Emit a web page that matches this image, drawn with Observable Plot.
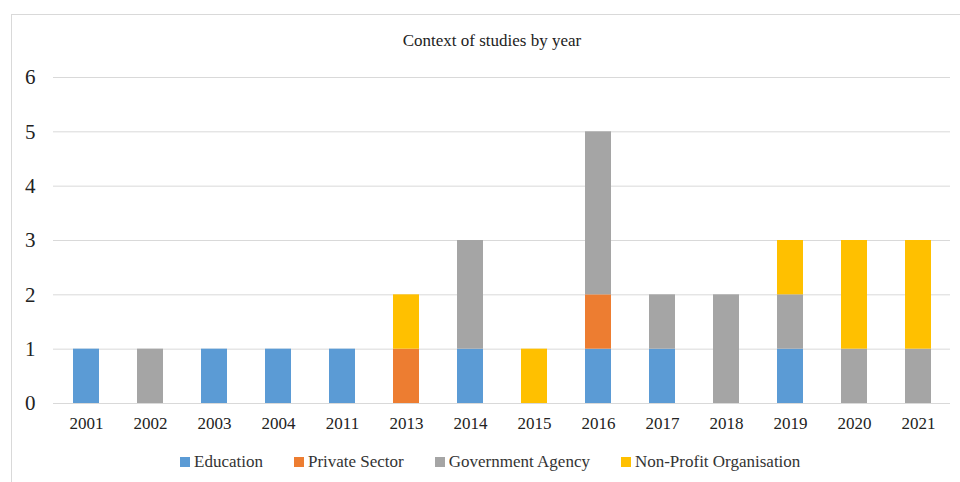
<!DOCTYPE html>
<html>
<head>
<meta charset="utf-8">
<script src="https://cdn.jsdelivr.net/npm/d3@7"></script>
<script src="https://cdn.jsdelivr.net/npm/@observablehq/plot@0.6"></script>
<style>
  html, body { margin: 0; padding: 0; background: #fff; }
  body { width: 960px; height: 482px; position: relative; overflow: hidden; font-family: "Liberation Serif", Tinos, "Times New Roman", Times, "DejaVu Serif", serif; }
  #frame { position: absolute; left: 11px; top: 14px; width: 1000px; height: 600px; border: 1px solid #d9d9d9; box-sizing: border-box; }
  #chart { position: absolute; left: 0; top: 0; }
  #chart svg, #chart svg text { font-family: "Liberation Serif", Tinos, "Times New Roman", Times, "DejaVu Serif", serif !important; }
  #title { position: absolute; top: 31px; left: 0; width: 984px; text-align: center; font-size: 17px; color: #222; }
  #legend { position: absolute; top: 452px; left: 180px; display: flex; align-items: center; font-size: 17px; color: #333; white-space: nowrap; }
  .item { display: flex; align-items: center; margin-right: 31px; }
  .sw { width: 10px; height: 10px; margin-right: 4px; }
</style>
</head>
<body>
<div id="frame"></div>
<div id="chart"></div>
<div id="title">Context of studies by year</div>
<div id="legend"></div>
<script>
const years = ["2001","2002","2003","2004","2011","2013","2014","2015","2016","2017","2018","2019","2020","2021"];
const seriesNames = ["Education", "Private Sector", "Government Agency", "Non-Profit Organisation"];
const education     = [1,0,1,1,1,0,1,0,1,1,0,1,0,0];
const privateSector = [0,0,0,0,0,1,0,0,1,0,0,0,0,0];
const government    = [0,1,0,0,0,0,2,0,3,1,2,1,1,1];
const nonProfit     = [0,0,0,0,0,1,0,1,0,0,0,1,2,2];
const colors = ["#5B9BD5", "#ED7D31", "#A5A5A5", "#FFC000"];
const yTicks = [0,1,2,3,4,5,6];

const seriesValues = [education, privateSector, government, nonProfit];
const rows = [];
seriesNames.forEach((s, si) => {
  years.forEach((yr, i) => {
    if (seriesValues[si][i] > 0) rows.push({year: yr, series: s, value: seriesValues[si][i]});
  });
});

const chart = Plot.plot({
  width: 960,
  height: 482,
  marginLeft: 53,
  marginRight: 10,
  marginTop: 77,
  marginBottom: 79,
  style: { background: "transparent", color: "#222" },
  x: { domain: years, paddingInner: 0.6, paddingOuter: 0.3, label: null },
  y: { domain: [0, 6], ticks: yTicks, label: null },
  color: { domain: seriesNames, range: colors },
  marks: [
    Plot.gridY(yTicks, { stroke: "#d9d9d9", strokeOpacity: 1, strokeWidth: 1 }),
    Plot.barY(rows, Plot.stackY({ order: seriesNames }, { x: "year", y: "value", fill: "series", z: "series" })),
    Plot.axisY(yTicks, { tickSize: 0, tickPadding: 18, fontSize: 21, label: null, textAnchor: "end", tickFormat: d => String(d) }),
    Plot.axisX({ tickSize: 0, tickPadding: 13, fontSize: 17, label: null })
  ]
});
document.getElementById("chart").appendChild(chart);

const legend = document.getElementById("legend");
seriesNames.forEach((s, i) => {
  const item = document.createElement("div");
  item.className = "item";
  const sw = document.createElement("div");
  sw.className = "sw";
  sw.style.background = colors[i];
  const t = document.createElement("span");
  t.textContent = s;
  item.appendChild(sw);
  item.appendChild(t);
  legend.appendChild(item);
});
</script>
</body>
</html>
